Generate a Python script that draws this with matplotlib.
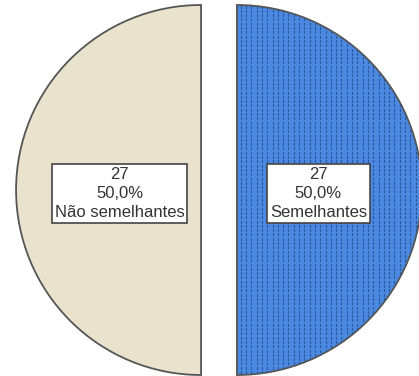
import numpy as np
import matplotlib
matplotlib.use("Agg")
import matplotlib.pyplot as plt

categories = ["Não semelhantes", "Semelhantes"]
counts = [27, 27]
colors = ["#E9E3CD", "#4A88E2"]

W, H, DPI = 419, 376, 100
plt.rcParams["font.family"] = ["Liberation Sans", "DejaVu Sans"]

fig = plt.figure(figsize=(W / DPI, H / DPI), dpi=DPI)
ax = fig.add_axes([0, 0, 1, 1])

total = sum(counts)
wedges, _ = ax.pie(counts, colors=colors, startangle=90, counterclock=True,
                   explode=[0.097, 0.097], radius=1.0,
                   wedgeprops=dict(edgecolor="#555555", linewidth=1.3))
ax.set_aspect("equal")
ax.set_xlim(-219 / 185, 200 / 185)
ax.set_ylim(-186 / 185, 190 / 185)
ax.axis("off")

# dotted fill on the second slice
w = wedges[1]
xs = np.arange(-1.2, 1.3, 5.3 / 185)
ys = np.arange(-1.1, 1.1, 4.3 / 185)
gx, gy = np.meshgrid(xs, ys)
dots, = ax.plot(gx.ravel(), gy.ravel(), linestyle="none", marker="|",
                markersize=1.4, markeredgewidth=0.8, color="#2A5A9C", zorder=3)
dots.set_clip_path(w)

for wd, cat, n in zip(wedges, categories, counts):
    ang = np.deg2rad((wd.theta1 + wd.theta2) / 2)
    cx, cy = wd.center
    pct = f"{100 * n / total:.1f}".replace(".", ",")
    ax.text(cx + 0.44 * np.cos(ang), cy + 0.44 * np.sin(ang) - 0.02,
            f"{n}\n{pct}%\n{cat}", ha="center", va="center",
            fontsize=12, color="#333333", linespacing=1.35, zorder=5,
            bbox=dict(boxstyle="square,pad=0.16", facecolor="white",
                      edgecolor="#444444", linewidth=1.2))

fig.savefig("out.png", dpi=DPI)
